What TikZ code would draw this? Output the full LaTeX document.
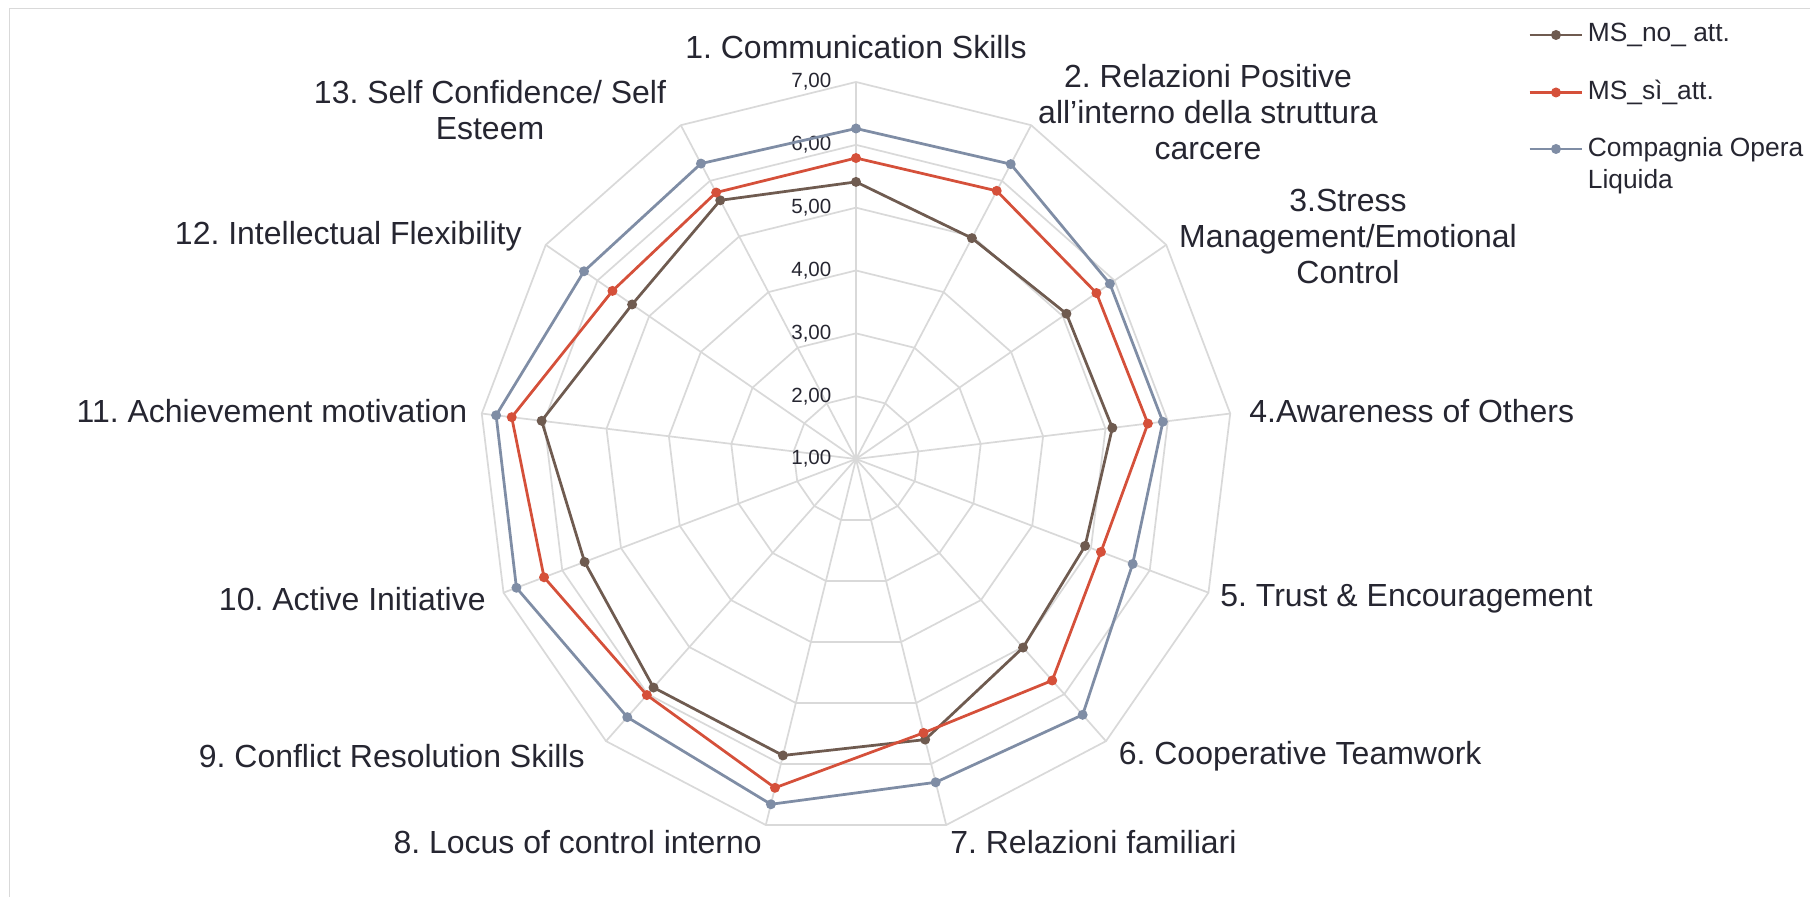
\documentclass[tikz,border=0pt]{standalone}
\usepackage{fontspec}
\setmainfont{Liberation Sans}
\frenchspacing
\definecolor{nocol}{HTML}{6F5B50}
\definecolor{sicol}{HTML}{D5503A}
\definecolor{opcol}{HTML}{7F8DA5}
\definecolor{gridcol}{HTML}{D9D9D9}
\definecolor{txtcol}{HTML}{262631}
\def\radunit{1.2566}
\tikzset{
  gridline/.style={draw=gridcol, line width=0.034cm},
  series/.style={line width=0.055cm, line join=round},
  axlabel/.style={inner sep=0, text=txtcol, align=center, font=\fontsize{18.2}{20.5}\selectfont},
  ticklabel/.style={inner sep=0, anchor=east, text=txtcol, font=\fontsize{11.7}{14}\selectfont},
  legtext/.style={inner sep=0, anchor=west, text=txtcol, align=left, font=\fontsize{15}{18.5}\selectfont}
}
\begin{document}
\begin{tikzpicture}
    \useasboundingbox (-17.12,-8.76) rectangle (19.08,9.18);
    \fill[white] (-17.12,-8.76) rectangle (19.08,9.18);
    \draw[gridline] (-16.93,-8.76) -- (-16.93,9.01) -- (19.08,9.01);

    % grid
    \coordinate (c) at (0,0);
    \foreach \k in {1,...,13}
        \coordinate (ax\k) at ({90-(\k-1)*360/13}:{6*\radunit});
    \foreach \v in {2,...,7}
        \draw[gridline] (90:{(\v-1)*\radunit}) \foreach \k in {1,...,12}{ -- ({90-\k*360/13}:{(\v-1)*\radunit})} -- cycle;
    \foreach \k in {1,...,13}
        \draw[gridline] (c) -- (ax\k);

    % scale
    \foreach \v in {1,...,7}
        \node[ticklabel] (t\v) at (-0.486,{(\v-1)*\radunit}) {\v,00};

    % series
    \foreach \v [count=\k] in {5.41,4.97,5.07,5.11,4.90,5.01,5.60,5.86,5.86,5.62,6.04,5.33,5.65}
        \coordinate (no\k) at ({90-(\k-1)*360/13}:{(\v-1)*\radunit});
    \foreach \v [count=\k] in {5.79,5.82,5.65,5.68,5.17,5.71,5.49,6.39,6.02,6.31,6.52,5.71,5.79}
        \coordinate (si\k) at ({90-(\k-1)*360/13}:{(\v-1)*\radunit});
    \foreach \v [count=\k] in {6.26,6.30,5.91,5.92,5.71,6.44,6.30,6.66,6.49,6.78,6.77,6.26,6.31}
        \coordinate (op\k) at ({90-(\k-1)*360/13}:{(\v-1)*\radunit});

    \foreach \s/\col in {no/nocol,si/sicol,op/opcol}{
        \draw[series,\col] (\s1) \foreach \k in {2,...,13}{ -- (\s\k)} -- cycle;
        \foreach \k in {1,...,13}
            \fill[\col] (\s\k) circle (0.1);
    }

    % axis labels
    \node[axlabel] (l1) at (0,8.23) {1. Communication Skills};
    \node[axlabel] (l2) at (7.04,6.93) {2. Relazioni Positive\\all’interno della struttura\\carcere};
    \node[axlabel] (l3) at (9.84,4.45) {3.Stress\\Management/Emotional\\Control};
    \node[axlabel,anchor=west] (l4) at (7.86,0.96) {4.Awareness of Others};
    \node[axlabel,anchor=west] (l5) at (7.28,-2.8) {5. Trust \& Encouragement};
    \node[axlabel,anchor=west] (l6) at (5.25,-5.94) {6. Cooperative Teamwork};
    \node[axlabel,anchor=west] (l7) at (1.88,-7.67) {7. Relazioni familiari};
    \node[axlabel,anchor=east] (l8) at (-1.88,-7.67) {8. Locus of control interno};
    \node[axlabel,anchor=east] (l9) at (-5.42,-5.94) {9. Conflict Resolution Skills};
    \node[axlabel,anchor=east] (l10) at (-7.4,-2.8) {10. Active Initiative};
    \node[axlabel,anchor=east] (l11) at (-7.77,0.96) {11. Achievement motivation};
    \node[axlabel,anchor=east] (l12) at (-6.68,4.45) {12. Intellectual Flexibility};
    \node[axlabel] (l13) at (-7.32,6.97) {13. Self Confidence/ Self\\Esteem};

    % legend
    \foreach \s/\col/\y in {no/nocol/8.48,si/sicol/7.33,op/opcol/6.2}{
        \coordinate (\s a) at (13.47,\y);
        \coordinate (\s b) at (14.51,\y);
        \coordinate (\s m) at (14.0,\y);
        \draw[series,\col] (\s a) -- (\s b);
        \fill[\col] (\s m) circle (0.1);
    }
    \node[legtext] (legno) at (14.63,8.48) {MS\_no\_ att.};
    \node[legtext] (legsi) at (14.63,7.33) {MS\_sì\_att.};
    \node[legtext] (legop) at (14.63,5.87) {Compagnia Opera\\Liquida};
\end{tikzpicture}
\end{document}
